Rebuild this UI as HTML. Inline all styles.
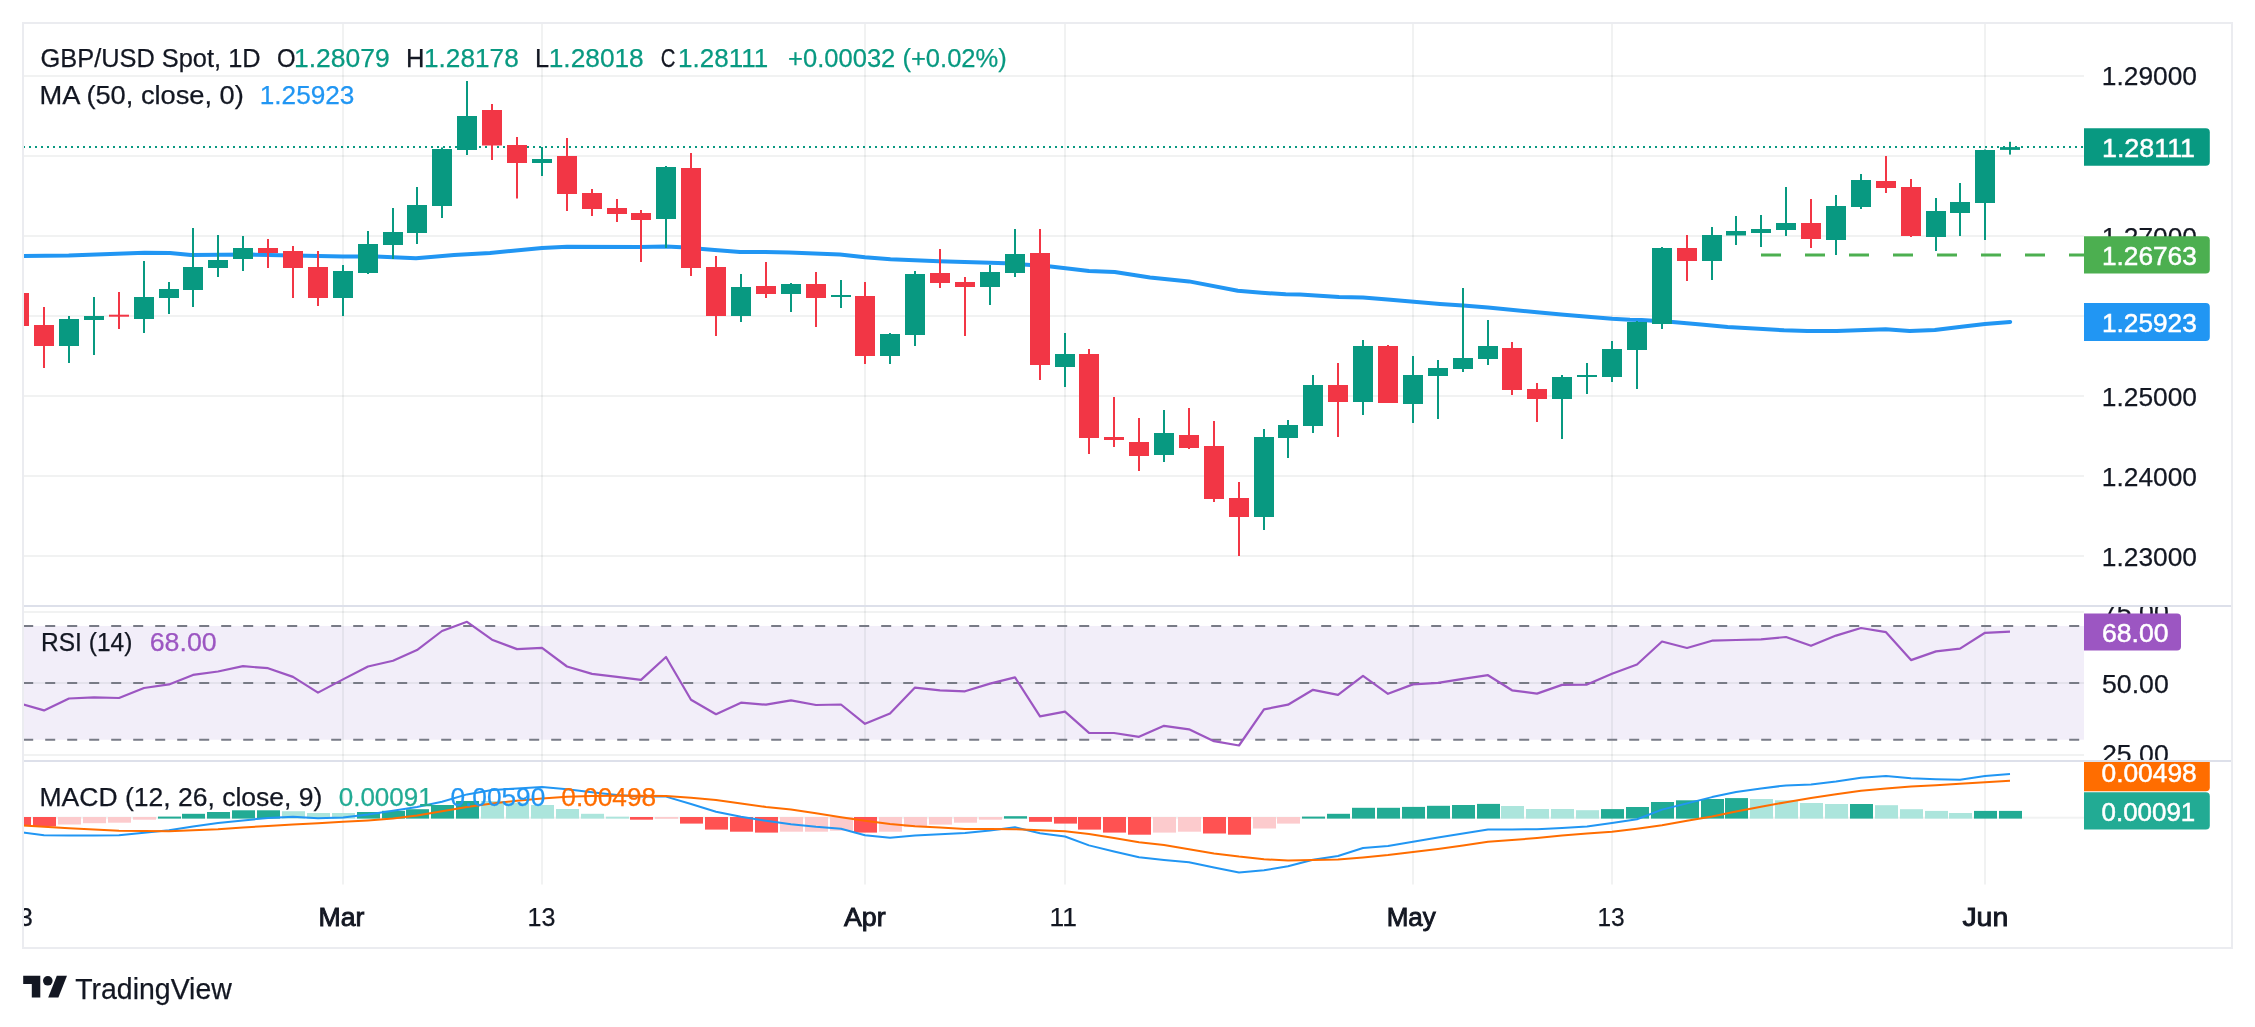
<!DOCTYPE html><html><head><meta charset="utf-8"><style>html,body{margin:0;padding:0;background:#fff;overflow:hidden}svg{display:block;will-change:transform}text{font-family:"Liberation Sans", sans-serif}</style></head><body>
<svg width="2255" height="1027" viewBox="0 0 2255 1027">
<defs><clipPath id="cpMain"><rect x="23" y="23" width="2061" height="582"/></clipPath><clipPath id="cpRsi"><rect x="23" y="606" width="2061" height="155"/></clipPath><clipPath id="cpRsiAx"><rect x="2084" y="607" width="147" height="153"/></clipPath><clipPath id="cpTime"><rect x="24" y="885" width="2061" height="62"/></clipPath><clipPath id="cpMacdAx"><rect x="2084" y="762" width="148" height="123"/></clipPath><clipPath id="cpMacd"><rect x="23" y="761" width="2061" height="124"/></clipPath></defs>
<rect width="2255" height="1027" fill="#ffffff"/>
<rect x="24" y="75" width="2060" height="2" fill="rgba(30,40,40,0.062)"/>
<rect x="24" y="155" width="2060" height="2" fill="rgba(30,40,40,0.062)"/>
<rect x="24" y="235" width="2060" height="2" fill="rgba(30,40,40,0.062)"/>
<rect x="24" y="315" width="2060" height="2" fill="rgba(30,40,40,0.062)"/>
<rect x="24" y="395" width="2060" height="2" fill="rgba(30,40,40,0.062)"/>
<rect x="24" y="475" width="2060" height="2" fill="rgba(30,40,40,0.062)"/>
<rect x="24" y="555" width="2060" height="2" fill="rgba(30,40,40,0.062)"/>
<rect x="23" y="626" width="2061" height="113.7" fill="#f2eef9"/>
<rect x="24" y="611" width="2060" height="2" fill="rgba(30,40,40,0.062)"/>
<rect x="24" y="682" width="2060" height="2" fill="rgba(30,40,40,0.062)"/>
<rect x="24" y="754" width="2060" height="2" fill="rgba(30,40,40,0.062)"/>
<rect x="24" y="816.7" width="2060" height="2" fill="rgba(30,40,40,0.062)"/>
<rect x="342.0" y="24" width="2" height="860.5" fill="rgba(30,40,40,0.062)"/>
<rect x="541.0" y="24" width="2" height="860.5" fill="rgba(30,40,40,0.062)"/>
<rect x="864.0" y="24" width="2" height="860.5" fill="rgba(30,40,40,0.062)"/>
<rect x="1064.0" y="24" width="2" height="860.5" fill="rgba(30,40,40,0.062)"/>
<rect x="1412.0" y="24" width="2" height="860.5" fill="rgba(30,40,40,0.062)"/>
<rect x="1611.0" y="24" width="2" height="860.5" fill="rgba(30,40,40,0.062)"/>
<rect x="1984.0" y="24" width="2" height="860.5" fill="rgba(30,40,40,0.062)"/>
<line x1="23.2" y1="626" x2="2084" y2="626" stroke="#787b86" stroke-width="2" stroke-dasharray="10 12"/>
<line x1="23.2" y1="682.9" x2="2084" y2="682.9" stroke="#787b86" stroke-width="2" stroke-dasharray="10 12"/>
<line x1="23.2" y1="739.7" x2="2084" y2="739.7" stroke="#787b86" stroke-width="2" stroke-dasharray="10 12"/>
<g clip-path="url(#cpMain)">
<line x1="23" y1="147.1" x2="2084" y2="147.1" stroke="#089981" stroke-width="2" stroke-dasharray="2 4"/>
<line x1="1761" y1="254.9" x2="2084" y2="254.9" stroke="#4caf50" stroke-width="3" stroke-dasharray="20 24"/>
<polyline points="23,256 68.7,255.5 144.6,252.8 170,253 191,255 251.7,254.6 269,255 343,256.5 376,256.5 416,258.3 454,255 490,253 542,248 567,246.8 640,247 666,246.4 681.5,247.2 714.6,250 740,252 765,252 789,252.4 840,254.5 865,257.3 890.5,259.2 939,261.2 990,262.8 1005.7,263.2 1048.5,266.3 1089,271 1114.7,272 1150,277.4 1189,281.4 1237.8,290.7 1261.7,292.7 1285.7,294.3 1300,294.5 1339,297.1 1363,297.5 1387.6,299.5 1440,303.9 1463,305.6 1488,307.4 1537,312.3 1564,314.7 1612,318.8 1630,319.8 1641.5,320.1 1672.6,322 1701,324.6 1727.6,326.9 1763,329.1 1784,330.3 1807.4,331.1 1836.6,331.1 1885.7,329.3 1909.7,331.1 1934.8,330 1963.5,326.6 1985,324 2010.2,321.9" fill="none" stroke="#2196f3" stroke-width="4" stroke-linejoin="round" stroke-linecap="round"/>
<rect x="18.00" y="290" width="2" height="40.00" fill="#f23645"/>
<rect x="9.00" y="293" width="20" height="33.00" fill="#f23645"/>
<rect x="43.00" y="307" width="2" height="61.00" fill="#f23645"/>
<rect x="34.00" y="325" width="20" height="21.00" fill="#f23645"/>
<rect x="68.00" y="316" width="2" height="47.00" fill="#089981"/>
<rect x="59.00" y="319" width="20" height="27.00" fill="#089981"/>
<rect x="93.00" y="297" width="2" height="58.00" fill="#089981"/>
<rect x="84.00" y="316" width="20" height="4.00" fill="#089981"/>
<rect x="118.00" y="292" width="2" height="37.00" fill="#f23645"/>
<rect x="109.00" y="314.7" width="20" height="2.00" fill="#f23645"/>
<rect x="143.00" y="261" width="2" height="72.00" fill="#089981"/>
<rect x="134.00" y="297" width="20" height="22.00" fill="#089981"/>
<rect x="168.00" y="282" width="2" height="32.00" fill="#089981"/>
<rect x="159.00" y="289" width="20" height="9.00" fill="#089981"/>
<rect x="192.00" y="228" width="2" height="79.00" fill="#089981"/>
<rect x="183.00" y="267" width="20" height="23.00" fill="#089981"/>
<rect x="217.00" y="235" width="2" height="42.00" fill="#089981"/>
<rect x="208.00" y="260" width="20" height="8.00" fill="#089981"/>
<rect x="242.00" y="236" width="2" height="35.00" fill="#089981"/>
<rect x="233.00" y="248" width="20" height="11.00" fill="#089981"/>
<rect x="267.00" y="239" width="2" height="29.00" fill="#f23645"/>
<rect x="258.00" y="248" width="20" height="5.00" fill="#f23645"/>
<rect x="292.00" y="246" width="2" height="52.00" fill="#f23645"/>
<rect x="283.00" y="251" width="20" height="17.00" fill="#f23645"/>
<rect x="317.00" y="251" width="2" height="55.00" fill="#f23645"/>
<rect x="308.00" y="267" width="20" height="31.00" fill="#f23645"/>
<rect x="342.00" y="265" width="2" height="51.00" fill="#089981"/>
<rect x="333.00" y="271" width="20" height="27.00" fill="#089981"/>
<rect x="367.00" y="231" width="2" height="43.00" fill="#089981"/>
<rect x="358.00" y="244" width="20" height="29.00" fill="#089981"/>
<rect x="392.00" y="208" width="2" height="51.00" fill="#089981"/>
<rect x="383.00" y="232" width="20" height="13.00" fill="#089981"/>
<rect x="416.00" y="187" width="2" height="57.00" fill="#089981"/>
<rect x="407.00" y="205" width="20" height="28.00" fill="#089981"/>
<rect x="441.00" y="147.5" width="2" height="70.50" fill="#089981"/>
<rect x="432.00" y="149" width="20" height="57.00" fill="#089981"/>
<rect x="466.00" y="81" width="2" height="74.00" fill="#089981"/>
<rect x="457.00" y="116" width="20" height="34.00" fill="#089981"/>
<rect x="491.00" y="104" width="2" height="56.00" fill="#f23645"/>
<rect x="482.00" y="110" width="20" height="35.50" fill="#f23645"/>
<rect x="516.00" y="137" width="2" height="61.50" fill="#f23645"/>
<rect x="507.00" y="145" width="20" height="18.00" fill="#f23645"/>
<rect x="541.00" y="147" width="2" height="29.00" fill="#089981"/>
<rect x="532.00" y="159" width="20" height="4.00" fill="#089981"/>
<rect x="566.00" y="138" width="2" height="73.00" fill="#f23645"/>
<rect x="557.00" y="156" width="20" height="38.00" fill="#f23645"/>
<rect x="591.00" y="189" width="2" height="27.00" fill="#f23645"/>
<rect x="582.00" y="193" width="20" height="16.00" fill="#f23645"/>
<rect x="616.00" y="199" width="2" height="23.00" fill="#f23645"/>
<rect x="607.00" y="208" width="20" height="6.00" fill="#f23645"/>
<rect x="640.00" y="210" width="2" height="52.00" fill="#f23645"/>
<rect x="631.00" y="213" width="20" height="7.00" fill="#f23645"/>
<rect x="665.00" y="166" width="2" height="82.00" fill="#089981"/>
<rect x="656.00" y="167" width="20" height="52.00" fill="#089981"/>
<rect x="690.00" y="153" width="2" height="123.00" fill="#f23645"/>
<rect x="681.00" y="168" width="20" height="100.00" fill="#f23645"/>
<rect x="715.00" y="256" width="2" height="80.00" fill="#f23645"/>
<rect x="706.00" y="267" width="20" height="49.00" fill="#f23645"/>
<rect x="740.00" y="274" width="2" height="48.00" fill="#089981"/>
<rect x="731.00" y="287" width="20" height="29.00" fill="#089981"/>
<rect x="765.00" y="262" width="2" height="36.00" fill="#f23645"/>
<rect x="756.00" y="286" width="20" height="8.00" fill="#f23645"/>
<rect x="790.00" y="283" width="2" height="29.00" fill="#089981"/>
<rect x="781.00" y="284" width="20" height="10.00" fill="#089981"/>
<rect x="815.00" y="272" width="2" height="55.00" fill="#f23645"/>
<rect x="806.00" y="284" width="20" height="14.00" fill="#f23645"/>
<rect x="840.00" y="280" width="2" height="28.00" fill="#089981"/>
<rect x="831.00" y="295" width="20" height="2.00" fill="#089981"/>
<rect x="864.00" y="282" width="2" height="82.00" fill="#f23645"/>
<rect x="855.00" y="296" width="20" height="60.00" fill="#f23645"/>
<rect x="889.00" y="333" width="2" height="31.00" fill="#089981"/>
<rect x="880.00" y="334" width="20" height="22.00" fill="#089981"/>
<rect x="914.00" y="271" width="2" height="75.00" fill="#089981"/>
<rect x="905.00" y="274" width="20" height="61.00" fill="#089981"/>
<rect x="939.00" y="249" width="2" height="39.00" fill="#f23645"/>
<rect x="930.00" y="273" width="20" height="10.00" fill="#f23645"/>
<rect x="964.00" y="277" width="2" height="59.00" fill="#f23645"/>
<rect x="955.00" y="282" width="20" height="5.00" fill="#f23645"/>
<rect x="989.00" y="265" width="2" height="40.00" fill="#089981"/>
<rect x="980.00" y="272" width="20" height="15.00" fill="#089981"/>
<rect x="1014.00" y="229" width="2" height="48.00" fill="#089981"/>
<rect x="1005.00" y="254" width="20" height="19.00" fill="#089981"/>
<rect x="1039.00" y="229" width="2" height="151.00" fill="#f23645"/>
<rect x="1030.00" y="253" width="20" height="112.00" fill="#f23645"/>
<rect x="1064.00" y="333" width="2" height="54.00" fill="#089981"/>
<rect x="1055.00" y="354" width="20" height="13.00" fill="#089981"/>
<rect x="1088.00" y="349" width="2" height="105.00" fill="#f23645"/>
<rect x="1079.00" y="354" width="20" height="84.00" fill="#f23645"/>
<rect x="1113.00" y="397" width="2" height="50.00" fill="#f23645"/>
<rect x="1104.00" y="437" width="20" height="3.00" fill="#f23645"/>
<rect x="1138.00" y="418" width="2" height="53.00" fill="#f23645"/>
<rect x="1129.00" y="442" width="20" height="14.00" fill="#f23645"/>
<rect x="1163.00" y="410" width="2" height="52.00" fill="#089981"/>
<rect x="1154.00" y="433" width="20" height="22.00" fill="#089981"/>
<rect x="1188.00" y="408" width="2" height="41.00" fill="#f23645"/>
<rect x="1179.00" y="435" width="20" height="13.00" fill="#f23645"/>
<rect x="1213.00" y="421" width="2" height="81.00" fill="#f23645"/>
<rect x="1204.00" y="446" width="20" height="53.00" fill="#f23645"/>
<rect x="1238.00" y="482" width="2" height="74.00" fill="#f23645"/>
<rect x="1229.00" y="498" width="20" height="19.00" fill="#f23645"/>
<rect x="1263.00" y="429" width="2" height="101.00" fill="#089981"/>
<rect x="1254.00" y="437" width="20" height="80.00" fill="#089981"/>
<rect x="1287.00" y="420" width="2" height="38.00" fill="#089981"/>
<rect x="1278.00" y="425" width="20" height="13.00" fill="#089981"/>
<rect x="1312.00" y="375" width="2" height="58.00" fill="#089981"/>
<rect x="1303.00" y="385" width="20" height="41.00" fill="#089981"/>
<rect x="1337.00" y="363" width="2" height="74.00" fill="#f23645"/>
<rect x="1328.00" y="385" width="20" height="17.00" fill="#f23645"/>
<rect x="1362.00" y="340" width="2" height="75.00" fill="#089981"/>
<rect x="1353.00" y="346" width="20" height="56.00" fill="#089981"/>
<rect x="1387.00" y="345" width="2" height="58.00" fill="#f23645"/>
<rect x="1378.00" y="346" width="20" height="57.00" fill="#f23645"/>
<rect x="1412.00" y="356" width="2" height="67.00" fill="#089981"/>
<rect x="1403.00" y="375" width="20" height="29.00" fill="#089981"/>
<rect x="1437.00" y="360" width="2" height="59.00" fill="#089981"/>
<rect x="1428.00" y="368" width="20" height="8.00" fill="#089981"/>
<rect x="1462.00" y="288" width="2" height="84.00" fill="#089981"/>
<rect x="1453.00" y="358" width="20" height="11.00" fill="#089981"/>
<rect x="1487.00" y="320" width="2" height="45.00" fill="#089981"/>
<rect x="1478.00" y="346" width="20" height="13.00" fill="#089981"/>
<rect x="1511.00" y="342" width="2" height="53.00" fill="#f23645"/>
<rect x="1502.00" y="348" width="20" height="42.00" fill="#f23645"/>
<rect x="1536.00" y="383" width="2" height="39.00" fill="#f23645"/>
<rect x="1527.00" y="389" width="20" height="10.00" fill="#f23645"/>
<rect x="1561.00" y="375" width="2" height="64.00" fill="#089981"/>
<rect x="1552.00" y="377" width="20" height="22.00" fill="#089981"/>
<rect x="1586.00" y="363" width="2" height="31.00" fill="#089981"/>
<rect x="1577.00" y="375" width="20" height="2.00" fill="#089981"/>
<rect x="1611.00" y="341" width="2" height="41.00" fill="#089981"/>
<rect x="1602.00" y="349" width="20" height="28.00" fill="#089981"/>
<rect x="1636.00" y="321" width="2" height="68.00" fill="#089981"/>
<rect x="1627.00" y="322" width="20" height="28.00" fill="#089981"/>
<rect x="1661.00" y="247" width="2" height="82.00" fill="#089981"/>
<rect x="1652.00" y="248" width="20" height="76.00" fill="#089981"/>
<rect x="1686.00" y="235" width="2" height="46.00" fill="#f23645"/>
<rect x="1677.00" y="248" width="20" height="13.00" fill="#f23645"/>
<rect x="1711.00" y="227" width="2" height="53.00" fill="#089981"/>
<rect x="1702.00" y="235" width="20" height="26.00" fill="#089981"/>
<rect x="1735.00" y="216" width="2" height="29.00" fill="#089981"/>
<rect x="1726.00" y="231" width="20" height="4.50" fill="#089981"/>
<rect x="1760.00" y="215" width="2" height="32.00" fill="#089981"/>
<rect x="1751.00" y="229" width="20" height="4.00" fill="#089981"/>
<rect x="1785.00" y="187" width="2" height="49.00" fill="#089981"/>
<rect x="1776.00" y="223" width="20" height="7.00" fill="#089981"/>
<rect x="1810.00" y="199" width="2" height="49.00" fill="#f23645"/>
<rect x="1801.00" y="223" width="20" height="16.00" fill="#f23645"/>
<rect x="1835.00" y="195" width="2" height="60.00" fill="#089981"/>
<rect x="1826.00" y="206" width="20" height="34.00" fill="#089981"/>
<rect x="1860.00" y="174" width="2" height="35.00" fill="#089981"/>
<rect x="1851.00" y="180" width="20" height="27.00" fill="#089981"/>
<rect x="1885.00" y="156" width="2" height="37.00" fill="#f23645"/>
<rect x="1876.00" y="181" width="20" height="7.00" fill="#f23645"/>
<rect x="1910.00" y="179" width="2" height="58.00" fill="#f23645"/>
<rect x="1901.00" y="187" width="20" height="49.00" fill="#f23645"/>
<rect x="1935.00" y="198" width="2" height="53.00" fill="#089981"/>
<rect x="1926.00" y="211" width="20" height="26.00" fill="#089981"/>
<rect x="1959.00" y="183" width="2" height="53.00" fill="#089981"/>
<rect x="1950.00" y="202" width="20" height="11.00" fill="#089981"/>
<rect x="1984.00" y="149.5" width="2" height="90.50" fill="#089981"/>
<rect x="1975.00" y="150" width="20" height="53.00" fill="#089981"/>
<rect x="2009.00" y="141.8" width="2" height="12.80" fill="#089981"/>
<rect x="2000.00" y="147.1" width="20" height="2.80" fill="#089981"/>
</g>
<g clip-path="url(#cpRsi)">
<polyline points="19.00,703.3 44.00,710.4 69.00,698.5 94.00,697.3 119.00,698 144.00,688 169.00,684.4 193.00,674.9 218.00,671.5 243.00,666.2 268.00,668.2 293.00,676.9 318.00,692.6 343.00,679.4 368.00,666.5 393.00,660.8 417.00,650.1 442.00,631 467.00,621.8 492.00,639.7 517.00,649.1 542.00,647.9 567.00,666.5 592.00,673.9 617.00,676.9 641.00,679.9 666.00,657 691.00,699.8 716.00,714.2 741.00,702.7 766.00,704.7 791.00,700.3 816.00,705 841.00,704.5 865.00,723.8 890.00,713.4 915.00,687.6 940.00,690.3 965.00,691.3 990.00,683.6 1015.00,677.4 1040.00,716.4 1065.00,711.7 1089.00,732.8 1114.00,733 1139.00,736.8 1164.00,725.8 1189.00,729.3 1214.00,741.2 1239.00,745.5 1264.00,709.4 1288.00,704.7 1313.00,689.8 1338.00,694.8 1363.00,675.9 1388.00,693.8 1413.00,684.4 1438.00,682.9 1463.00,678.9 1488.00,675.2 1512.00,690.3 1537.00,693.6 1562.00,684.9 1587.00,684.6 1612.00,673.7 1637.00,664.5 1662.00,641.5 1687.00,648 1712.00,640.7 1736.00,640 1761.00,639.3 1786.00,637 1811.00,645.8 1836.00,635.6 1861.00,628 1886.00,632.2 1911.00,660.1 1936.00,651.4 1960.00,648.6 1985.00,632.8 2010.00,631.7" fill="none" stroke="#9c56c2" stroke-width="2.2" stroke-linejoin="round"/>
</g>
<g clip-path="url(#cpMacd)">
<rect x="8.00" y="817.00" width="23" height="8.30" fill="#ff5252"/>
<rect x="33.00" y="817.00" width="23" height="9.40" fill="#ff5252"/>
<rect x="58.00" y="817.00" width="23" height="7.50" fill="#fccbcd"/>
<rect x="83.00" y="817.00" width="23" height="6.20" fill="#fccbcd"/>
<rect x="108.00" y="817.00" width="23" height="5.70" fill="#fccbcd"/>
<rect x="133.00" y="817.00" width="23" height="2.70" fill="#fccbcd"/>
<rect x="158.00" y="816.60" width="23" height="2.00" fill="#22ab94"/>
<rect x="182.00" y="813.80" width="23" height="4.80" fill="#22ab94"/>
<rect x="207.00" y="812.00" width="23" height="6.60" fill="#22ab94"/>
<rect x="232.00" y="810.30" width="23" height="8.30" fill="#22ab94"/>
<rect x="257.00" y="810.30" width="23" height="8.30" fill="#22ab94"/>
<rect x="282.00" y="811.20" width="23" height="7.40" fill="#ace5dc"/>
<rect x="307.00" y="813.00" width="23" height="5.60" fill="#ace5dc"/>
<rect x="332.00" y="813.00" width="23" height="5.60" fill="#ace5dc"/>
<rect x="357.00" y="812.00" width="23" height="6.60" fill="#22ab94"/>
<rect x="382.00" y="810.80" width="23" height="7.80" fill="#22ab94"/>
<rect x="406.00" y="809.20" width="23" height="9.40" fill="#22ab94"/>
<rect x="431.00" y="805.00" width="23" height="13.60" fill="#22ab94"/>
<rect x="456.00" y="801.00" width="23" height="17.60" fill="#22ab94"/>
<rect x="481.00" y="801.00" width="23" height="17.60" fill="#ace5dc"/>
<rect x="506.00" y="802.80" width="23" height="15.80" fill="#ace5dc"/>
<rect x="531.00" y="805.00" width="23" height="13.60" fill="#ace5dc"/>
<rect x="556.00" y="809.00" width="23" height="9.60" fill="#ace5dc"/>
<rect x="581.00" y="813.80" width="23" height="4.80" fill="#ace5dc"/>
<rect x="606.00" y="816.70" width="23" height="1.90" fill="#ace5dc"/>
<rect x="630.00" y="817.00" width="23" height="2.70" fill="#ff5252"/>
<rect x="655.00" y="817.00" width="23" height="1.80" fill="#fccbcd"/>
<rect x="680.00" y="817.00" width="23" height="6.60" fill="#ff5252"/>
<rect x="705.00" y="817.00" width="23" height="12.60" fill="#ff5252"/>
<rect x="730.00" y="817.00" width="23" height="14.70" fill="#ff5252"/>
<rect x="755.00" y="817.00" width="23" height="15.60" fill="#ff5252"/>
<rect x="780.00" y="817.00" width="23" height="14.70" fill="#fccbcd"/>
<rect x="805.00" y="817.00" width="23" height="14.70" fill="#fccbcd"/>
<rect x="830.00" y="817.00" width="23" height="13.70" fill="#fccbcd"/>
<rect x="854.00" y="817.00" width="23" height="15.60" fill="#ff5252"/>
<rect x="879.00" y="817.00" width="23" height="14.70" fill="#fccbcd"/>
<rect x="904.00" y="817.00" width="23" height="10.10" fill="#fccbcd"/>
<rect x="929.00" y="817.00" width="23" height="7.60" fill="#fccbcd"/>
<rect x="954.00" y="817.00" width="23" height="5.70" fill="#fccbcd"/>
<rect x="979.00" y="817.00" width="23" height="2.70" fill="#fccbcd"/>
<rect x="1004.00" y="816.20" width="23" height="2.40" fill="#22ab94"/>
<rect x="1029.00" y="817.00" width="23" height="4.80" fill="#ff5252"/>
<rect x="1054.00" y="817.00" width="23" height="6.60" fill="#ff5252"/>
<rect x="1078.00" y="817.00" width="23" height="12.60" fill="#ff5252"/>
<rect x="1103.00" y="817.00" width="23" height="15.60" fill="#ff5252"/>
<rect x="1128.00" y="817.00" width="23" height="17.70" fill="#ff5252"/>
<rect x="1153.00" y="817.00" width="23" height="15.60" fill="#fccbcd"/>
<rect x="1178.00" y="817.00" width="23" height="14.70" fill="#fccbcd"/>
<rect x="1203.00" y="817.00" width="23" height="16.50" fill="#ff5252"/>
<rect x="1228.00" y="817.00" width="23" height="17.70" fill="#ff5252"/>
<rect x="1253.00" y="817.00" width="23" height="11.50" fill="#fccbcd"/>
<rect x="1277.00" y="817.00" width="23" height="6.60" fill="#fccbcd"/>
<rect x="1302.00" y="816.60" width="23" height="2.00" fill="#22ab94"/>
<rect x="1327.00" y="813.80" width="23" height="4.80" fill="#22ab94"/>
<rect x="1352.00" y="807.80" width="23" height="10.80" fill="#22ab94"/>
<rect x="1377.00" y="807.80" width="23" height="10.80" fill="#22ab94"/>
<rect x="1402.00" y="806.90" width="23" height="11.70" fill="#22ab94"/>
<rect x="1427.00" y="805.80" width="23" height="12.80" fill="#22ab94"/>
<rect x="1452.00" y="805.00" width="23" height="13.60" fill="#22ab94"/>
<rect x="1477.00" y="803.90" width="23" height="14.70" fill="#22ab94"/>
<rect x="1501.00" y="806.00" width="23" height="12.60" fill="#ace5dc"/>
<rect x="1526.00" y="809.00" width="23" height="9.60" fill="#ace5dc"/>
<rect x="1551.00" y="809.00" width="23" height="9.60" fill="#ace5dc"/>
<rect x="1576.00" y="810.20" width="23" height="8.40" fill="#ace5dc"/>
<rect x="1601.00" y="809.10" width="23" height="9.50" fill="#22ab94"/>
<rect x="1626.00" y="807.00" width="23" height="11.60" fill="#22ab94"/>
<rect x="1651.00" y="802.00" width="23" height="16.60" fill="#22ab94"/>
<rect x="1676.00" y="800.30" width="23" height="18.30" fill="#22ab94"/>
<rect x="1701.00" y="799.00" width="23" height="19.60" fill="#22ab94"/>
<rect x="1725.00" y="798.10" width="23" height="20.50" fill="#22ab94"/>
<rect x="1750.00" y="799.00" width="23" height="19.60" fill="#ace5dc"/>
<rect x="1775.00" y="800.30" width="23" height="18.30" fill="#ace5dc"/>
<rect x="1800.00" y="803.00" width="23" height="15.60" fill="#ace5dc"/>
<rect x="1825.00" y="804.00" width="23" height="14.60" fill="#ace5dc"/>
<rect x="1850.00" y="804.00" width="23" height="14.60" fill="#22ab94"/>
<rect x="1875.00" y="805.20" width="23" height="13.40" fill="#ace5dc"/>
<rect x="1900.00" y="809.20" width="23" height="9.40" fill="#ace5dc"/>
<rect x="1925.00" y="810.90" width="23" height="7.70" fill="#ace5dc"/>
<rect x="1949.00" y="813.00" width="23" height="5.60" fill="#ace5dc"/>
<rect x="1974.00" y="810.90" width="23" height="7.70" fill="#22ab94"/>
<rect x="1999.00" y="810.90" width="23" height="7.70" fill="#22ab94"/>
<polyline points="19.00,832.0 44.00,835.3 69.00,835.5 94.00,835.5 119.00,835.3 144.00,832.7 169.00,830.2 193.00,826.5 218.00,822.9 243.00,820.4 268.00,818 293.00,816.7 318.00,818.2 343.00,817.5 368.00,814.5 393.00,810.8 417.00,806.9 442.00,801.7 467.00,794.4 492.00,790.1 517.00,788.5 542.00,786.9 567.00,789.3 592.00,792.2 617.00,795 641.00,796.4 666.00,796.6 691.00,804 716.00,811.7 741.00,816.8 766.00,820.8 791.00,824.3 816.00,826.8 841.00,828.7 865.00,835.2 890.00,837.8 915.00,835.6 940.00,834.2 965.00,833 990.00,830.6 1015.00,827.3 1040.00,833.3 1065.00,836.5 1089.00,845.4 1114.00,851.5 1139.00,857.3 1164.00,860 1189.00,862.2 1214.00,867.4 1239.00,872.5 1264.00,870.2 1288.00,866.3 1313.00,859.7 1338.00,856 1363.00,848 1388.00,845.9 1413.00,841.7 1438.00,837.5 1463.00,833.5 1488.00,829.4 1512.00,829.4 1537.00,829.3 1562.00,828 1587.00,826.5 1612.00,823 1637.00,819.2 1662.00,809.6 1687.00,803.4 1712.00,797.1 1736.00,792 1761.00,788.4 1786.00,785.4 1811.00,784.5 1836.00,781.6 1861.00,777.7 1886.00,776 1911.00,778.2 1936.00,779.2 1960.00,779.7 1985.00,776 2010.00,774.1" fill="none" stroke="#2196f3" stroke-width="2" stroke-linejoin="round"/>
<polyline points="19.00,825.2 44.00,826.8 69.00,828.2 94.00,829.5 119.00,830.8 144.00,831 169.00,831.2 193.00,830.2 218.00,829.2 243.00,827.5 268.00,826 293.00,824.6 318.00,823.2 343.00,821.8 368.00,820.4 393.00,818.5 417.00,815.5 442.00,811.2 467.00,807.1 492.00,803.5 517.00,800.8 542.00,798.4 567.00,796.8 592.00,795.9 617.00,795.8 641.00,795.8 666.00,796.1 691.00,797.7 716.00,800 741.00,803.6 766.00,806.9 791.00,809.5 816.00,813.3 841.00,817.3 865.00,820.7 890.00,824 915.00,826.2 940.00,827.6 965.00,828.9 990.00,829 1015.00,829.2 1040.00,830.2 1065.00,831.2 1089.00,833.9 1114.00,838.1 1139.00,842.2 1164.00,845.1 1189.00,849.3 1214.00,853.4 1239.00,856.6 1264.00,859.2 1288.00,860.5 1313.00,860.1 1338.00,859.6 1363.00,857.4 1388.00,855.1 1413.00,852 1438.00,848.9 1463.00,845.4 1488.00,841.8 1512.00,840 1537.00,838 1562.00,835.5 1587.00,833.5 1612.00,831.8 1637.00,828.8 1662.00,825.3 1687.00,820.8 1712.00,816.4 1736.00,811.4 1761.00,806.7 1786.00,802.2 1811.00,798.1 1836.00,794.2 1861.00,790.7 1886.00,788.4 1911.00,786.6 1936.00,785.3 1960.00,783.7 1985.00,782.2 2010.00,780.7" fill="none" stroke="#ff6d00" stroke-width="2" stroke-linejoin="round"/>
</g>
<rect x="24" y="605" width="2207" height="2" fill="#dde0ea"/>
<rect x="24" y="760" width="2207" height="2" fill="#dde0ea"/>
<rect x="23" y="23" width="2209" height="925" fill="none" stroke="#ebecf0" stroke-width="2"/>
<text x="40.54" y="67.2" font-size="26.5" fill="#131722" textLength="220.05" lengthAdjust="spacingAndGlyphs" stroke="#131722" stroke-width="0.25">GBP/USD Spot, 1D</text>
<text x="277.00" y="67.2" font-size="26.5" fill="#131722" textLength="18.55" lengthAdjust="spacingAndGlyphs" stroke="#131722" stroke-width="0.25">O</text>
<text x="294.00" y="67.2" font-size="26.5" fill="#089981" textLength="95.74" lengthAdjust="spacingAndGlyphs" stroke="#089981" stroke-width="0.25">1.28079</text>
<text x="406.07" y="67.2" font-size="26.5" fill="#131722" textLength="18.50" lengthAdjust="spacingAndGlyphs" stroke="#131722" stroke-width="0.25">H</text>
<text x="424.02" y="67.2" font-size="26.5" fill="#089981" textLength="94.71" lengthAdjust="spacingAndGlyphs" stroke="#089981" stroke-width="0.25">1.28178</text>
<text x="534.98" y="67.2" font-size="26.5" fill="#131722" textLength="14.12" lengthAdjust="spacingAndGlyphs" stroke="#131722" stroke-width="0.25">L</text>
<text x="548.72" y="67.2" font-size="26.5" fill="#089981" textLength="95.02" lengthAdjust="spacingAndGlyphs" stroke="#089981" stroke-width="0.25">1.28018</text>
<text x="660.63" y="67.2" font-size="26.5" fill="#131722" textLength="14.67" lengthAdjust="spacingAndGlyphs" stroke="#131722" stroke-width="0.25">C</text>
<text x="678.04" y="67.2" font-size="26.5" fill="#089981" textLength="90.19" lengthAdjust="spacingAndGlyphs" stroke="#089981" stroke-width="0.25">1.28111</text>
<text x="788.04" y="67.2" font-size="26.5" fill="#089981" textLength="218.76" lengthAdjust="spacingAndGlyphs" stroke="#089981" stroke-width="0.25">+0.00032 (+0.02%)</text>
<text x="39.46" y="104.2" font-size="26.5" fill="#131722" textLength="204.38" lengthAdjust="spacingAndGlyphs" stroke="#131722" stroke-width="0.25">MA (50, close, 0)</text>
<text x="259.72" y="104.2" font-size="26.5" fill="#2196f3" textLength="94.71" lengthAdjust="spacingAndGlyphs" stroke="#2196f3" stroke-width="0.25">1.25923</text>
<text x="41.05" y="650.8" font-size="26.5" fill="#131722" textLength="91.31" lengthAdjust="spacingAndGlyphs" stroke="#131722" stroke-width="0.25">RSI (14)</text>
<text x="149.69" y="650.8" font-size="26.5" fill="#9c56c2" textLength="67.06" lengthAdjust="spacingAndGlyphs" stroke="#9c56c2" stroke-width="0.25">68.00</text>
<text x="39.50" y="805.9" font-size="26.5" fill="#131722" textLength="282.93" lengthAdjust="spacingAndGlyphs" stroke="#131722" stroke-width="0.25">MACD (12, 26, close, 9)</text>
<text x="338.72" y="805.9" font-size="26.5" fill="#22ab94" textLength="94.01" lengthAdjust="spacingAndGlyphs" stroke="#22ab94" stroke-width="0.25">0.00091</text>
<text x="450.41" y="805.9" font-size="26.5" fill="#2196f3" textLength="94.92" lengthAdjust="spacingAndGlyphs" stroke="#2196f3" stroke-width="0.25">0.00590</text>
<text x="561.31" y="805.9" font-size="26.5" fill="#ff6d00" textLength="94.82" lengthAdjust="spacingAndGlyphs" stroke="#ff6d00" stroke-width="0.25">0.00498</text>
<text x="2101.81" y="85.3" font-size="26.5" fill="#131722" textLength="95.12" lengthAdjust="spacingAndGlyphs" stroke="#131722" stroke-width="0.25">1.29000</text>
<text x="2101.81" y="245.5" font-size="26.5" fill="#131722" textLength="95.12" lengthAdjust="spacingAndGlyphs" stroke="#131722" stroke-width="0.25">1.27000</text>
<text x="2101.81" y="405.9" font-size="26.5" fill="#131722" textLength="95.12" lengthAdjust="spacingAndGlyphs" stroke="#131722" stroke-width="0.25">1.25000</text>
<text x="2101.81" y="485.7" font-size="26.5" fill="#131722" textLength="95.12" lengthAdjust="spacingAndGlyphs" stroke="#131722" stroke-width="0.25">1.24000</text>
<text x="2101.81" y="565.6" font-size="26.5" fill="#131722" textLength="95.12" lengthAdjust="spacingAndGlyphs" stroke="#131722" stroke-width="0.25">1.23000</text>
<text x="2101.99" y="621.4" font-size="26.5" fill="#131722" textLength="66.75" lengthAdjust="spacingAndGlyphs" stroke="#131722" stroke-width="0.25" clip-path="url(#cpRsiAx)">75.00</text>
<text x="2101.99" y="692.8" font-size="26.5" fill="#131722" textLength="66.75" lengthAdjust="spacingAndGlyphs" stroke="#131722" stroke-width="0.25">50.00</text>
<text x="2101.99" y="763.4" font-size="26.5" fill="#131722" textLength="66.75" lengthAdjust="spacingAndGlyphs" stroke="#131722" stroke-width="0.25" clip-path="url(#cpRsiAx)">25.00</text>
<text x="4.59" y="925.9" font-size="26.5" fill="#131722" textLength="28.11" lengthAdjust="spacingAndGlyphs" stroke="#131722" stroke-width="0.25" clip-path="url(#cpTime)">13</text>
<text x="318.49" y="925.9" font-size="26.5" fill="#131722" textLength="45.83" lengthAdjust="spacingAndGlyphs" stroke="#131722" stroke-width="0.9">Mar</text>
<text x="527.61" y="925.9" font-size="26.5" fill="#131722" textLength="27.89" lengthAdjust="spacingAndGlyphs" stroke="#131722" stroke-width="0.25">13</text>
<text x="843.90" y="925.9" font-size="26.5" fill="#131722" textLength="41.72" lengthAdjust="spacingAndGlyphs" stroke="#131722" stroke-width="0.9">Apr</text>
<text x="1049.41" y="925.9" font-size="26.5" fill="#131722" textLength="27.43" lengthAdjust="spacingAndGlyphs" stroke="#131722" stroke-width="0.25">11</text>
<text x="1386.64" y="925.9" font-size="26.5" fill="#131722" textLength="49.13" lengthAdjust="spacingAndGlyphs" stroke="#131722" stroke-width="0.9">May</text>
<text x="1597.45" y="925.9" font-size="26.5" fill="#131722" textLength="27.23" lengthAdjust="spacingAndGlyphs" stroke="#131722" stroke-width="0.25">13</text>
<text x="1962.40" y="925.9" font-size="26.5" fill="#131722" textLength="45.79" lengthAdjust="spacingAndGlyphs" stroke="#131722" stroke-width="0.9">Jun</text>
<text x="75.20" y="998.5" font-size="29.8" fill="#131722" textLength="156.64" lengthAdjust="spacingAndGlyphs" stroke="#131722" stroke-width="0.25">TradingView</text>
<path d="M2084,128.2 H2205.8 Q2209.8,128.2 2209.8,132.2 V161.7 Q2209.8,165.7 2205.8,165.7 H2084 Z" fill="#089981"/>
<path d="M2084,236.2 H2205.8 Q2209.8,236.2 2209.8,240.2 V269.5 Q2209.8,273.5 2205.8,273.5 H2084 Z" fill="#4caf50"/>
<path d="M2084,303 H2205.8 Q2209.8,303 2209.8,307 V336.9 Q2209.8,340.9 2205.8,340.9 H2084 Z" fill="#2196f3"/>
<path d="M2084,613.4 H2177 Q2181,613.4 2181,617.4 V646.4 Q2181,650.4 2177,650.4 H2084 Z" fill="#9c56c2"/>
<path d="M2084,753.5 H2205.8 Q2209.8,753.5 2209.8,757.5 V787.3 Q2209.8,791.3 2205.8,791.3 H2084 Z" fill="#ff6d00" clip-path="url(#cpMacdAx)"/>
<path d="M2084,792.3 H2205.8 Q2209.8,792.3 2209.8,796.3 V825.6 Q2209.8,829.6 2205.8,829.6 H2084 Z" fill="#22ab94" clip-path="url(#cpMacdAx)"/>
<text x="2101.97" y="156.7" font-size="26.5" fill="#ffffff" textLength="93.07" lengthAdjust="spacingAndGlyphs" stroke="#ffffff" stroke-width="0.5">1.28111</text>
<text x="2102.02" y="264.5" font-size="26.5" fill="#ffffff" textLength="94.71" lengthAdjust="spacingAndGlyphs" stroke="#ffffff" stroke-width="0.5">1.26763</text>
<text x="2102.02" y="331.6" font-size="26.5" fill="#ffffff" textLength="94.71" lengthAdjust="spacingAndGlyphs" stroke="#ffffff" stroke-width="0.5">1.25923</text>
<text x="2102.00" y="641.5" font-size="26.5" fill="#ffffff" textLength="66.44" lengthAdjust="spacingAndGlyphs" stroke="#ffffff" stroke-width="0.5">68.00</text>
<text x="2101.51" y="782.3" font-size="26.5" fill="#ffffff" textLength="95.23" lengthAdjust="spacingAndGlyphs" stroke="#ffffff" stroke-width="0.5">0.00498</text>
<text x="2101.52" y="820.6" font-size="26.5" fill="#ffffff" textLength="93.70" lengthAdjust="spacingAndGlyphs" stroke="#ffffff" stroke-width="0.5">0.00091</text>
<g fill="#131722"><path d="M23.2,975.7 H40.3 V997.6 H31.8 V983.9 H23.2 Z"/><circle cx="47.8" cy="980.8" r="4.8"/><path d="M56.8,975.7 H67 L58.4,997.6 H48.2 Z"/></g>
</svg></body></html>
